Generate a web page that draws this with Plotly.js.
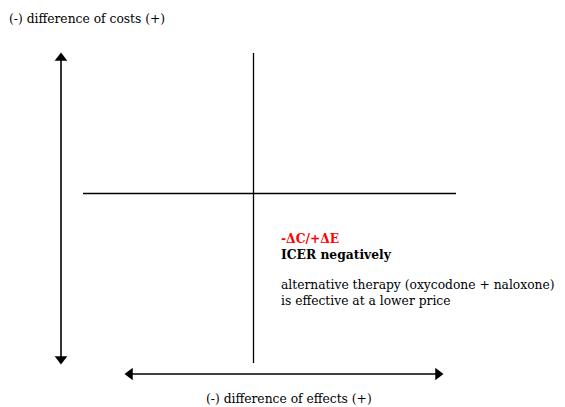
<!DOCTYPE html>
<html>
<head>
<meta charset="utf-8">
<script src="https://cdn.plot.ly/plotly-3.0.1.min.js"></script>
<style>
  html, body { margin: 0; padding: 0; background: #fff; }
  #plot { width: 565px; height: 407px; }
</style>
</head>
<body>
<div id="plot"></div>
<script>
// diagram drawn in page-pixel units (x right, y down)
var quadX = [83, 456];          // horizontal quadrant line
var quadY = [53, 363];          // vertical quadrant line
var originX = 253.5;
var originY = 193.5;
var costArrowX = 61;
var costArrowY = [58, 359];     // marker centres of the arrow heads
var effectArrowY = 374;
var effectArrowX = [130, 438];

var costLabel = "(-) difference of costs (+)";
var effectLabel = "(-) difference of effects (+)";
var quadrantLines = [
  { text: "-ΔC/+ΔE", color: "#ff0000", bold: true, y: 238 },
  { text: "ICER negatively", color: "#000000", bold: true, y: 254 },
  { text: "alternative therapy (oxycodone + naloxone)", color: "#000000", bold: false, y: 285 },
  { text: "is effective at a lower price", color: "#000000", bold: false, y: 301 }
];
var textX = 279;

var font = "DejaVu Serif, serif";
var fsize = 12.3;

var traces = [
  {
    x: quadX, y: [originY, originY],
    mode: "lines", line: { color: "#000", width: 1.3 },
    hoverinfo: "skip"
  },
  {
    x: [originX, originX], y: quadY,
    mode: "lines", line: { color: "#000", width: 1.3 },
    hoverinfo: "skip"
  },
  {
    x: [costArrowX, costArrowX], y: costArrowY,
    mode: "lines+markers", line: { color: "#000", width: 1.6 },
    marker: { symbol: ["triangle-up", "triangle-down"], size: 11, color: "#000" },
    hoverinfo: "skip"
  },
  {
    x: effectArrowX, y: [effectArrowY, effectArrowY],
    mode: "lines+markers", line: { color: "#000", width: 1.6 },
    marker: { symbol: ["triangle-left", "triangle-right"], size: 11, color: "#000" },
    hoverinfo: "skip"
  }
];

var annotations = [
  {
    x: 7, y: 19, xref: "x", yref: "y", text: costLabel, showarrow: false,
    xanchor: "left", yanchor: "middle",
    font: { family: font, size: fsize, color: "#000" }
  },
  {
    x: 289, y: 399, xref: "x", yref: "y", text: effectLabel, showarrow: false,
    xanchor: "center", yanchor: "middle",
    font: { family: font, size: fsize, color: "#000" }
  }
];
quadrantLines.forEach(function (l) {
  annotations.push({
    x: textX, y: l.y, xref: "x", yref: "y",
    text: l.bold ? "<b>" + l.text + "</b>" : l.text,
    showarrow: false, xanchor: "left", yanchor: "middle",
    font: { family: font, size: fsize, color: l.color }
  });
});

var layout = {
  width: 565, height: 407,
  margin: { l: 0, r: 0, t: 0, b: 0 },
  paper_bgcolor: "#fff", plot_bgcolor: "#fff",
  showlegend: false,
  xaxis: { range: [0, 565], visible: false, fixedrange: true },
  yaxis: { range: [407, 0], visible: false, fixedrange: true },
  annotations: annotations
};

Plotly.newPlot("plot", traces, layout, { displayModeBar: false, staticPlot: true });
</script>
</body>
</html>
